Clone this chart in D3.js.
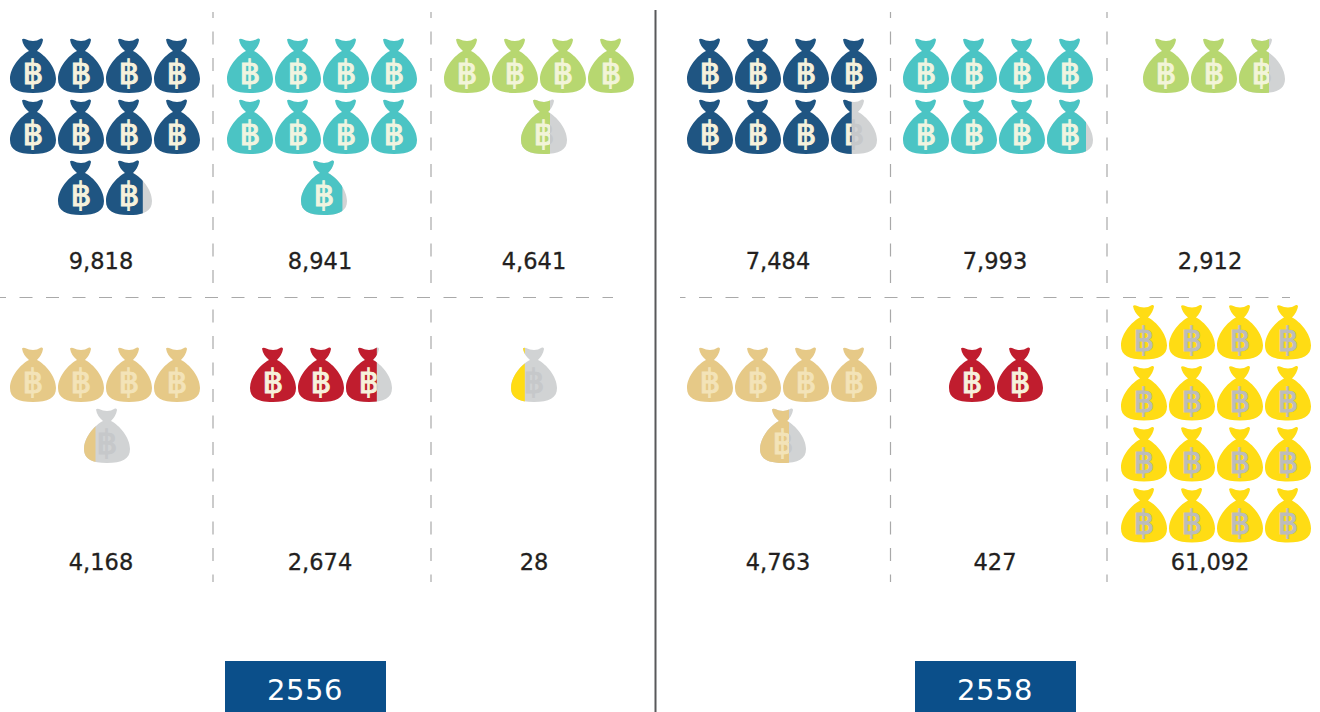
<!DOCTYPE html>
<html>
<head>
<meta charset="utf-8">
<script src="https://d3js.org/d3.v7.min.js"></script>
<style>
	body { margin: 0; background: #fff; }
	text { font-family: "DejaVu Sans", sans-serif; }
</style>
</head>
<body>
<div id="chart"></div>
<script>
// figures as printed under each group of bags, 2556 then 2558
var years = ["2556", "2558"];
var labels2556 = ["9,818", "8,941", "4,641", "4,168", "2,674", "28"];
var labels2558 = ["7,484", "7,993", "2,912", "4,763", "427", "61,092"];
// number of bags drawn (one bag is about 1,000; the last group is cut off at 16)
var bags2556 = [9.8, 8.9, 4.63, 4.25, 2.67, 0.3];
var bags2558 = [7.45, 7.85, 2.65, 4.63, 2, 16];
var colors = ["#1f5582", "#4bc4c4", "#b7d770", "#e6c987", "#c01d2e", "#ffdc14"];
var glyphColors = ["#f6f1dc", "#f0f4e0", "#f2f4d8", "#f3e3b8", "#f6f1dc", "#bcbcbc"];

var width = 1320;
var height = 712;
var bagW = 46;
var bagPitchX = 48;
var bagPitchY = 61;
var emptyColor = "#d1d3d4";
var bagShape = "M12,1.5 Q13,0.5 15,1 Q19,3 23,3 Q27,3 31,0.5 Q33,0 33,2 Q32,8 27,13 C35,17 46,29 46,41 C46,51 38,55 23,55 C8,55 0,51 0,41 C0,29 11,17 19,13 Q13,8 12,1.5 Z";

// one entry per group: centre of the bags, of a short last row, top of first row, label position
var layout2556 = [
	{ cx: 105, lastCx: 105, top: 38, labelX: 101, labelY: 269 },
	{ cx: 322, lastCx: 324, top: 38, labelX: 320, labelY: 269 },
	{ cx: 539, lastCx: 544, top: 38, labelX: 534, labelY: 269 },
	{ cx: 105, lastCx: 107, top: 347, labelX: 101, labelY: 570 },
	{ cx: 321, lastCx: 321, top: 347, labelX: 320, labelY: 570 },
	{ cx: 534, lastCx: 534, top: 347, labelX: 534, labelY: 570 },
];
var layout2558 = [
	{ cx: 782, lastCx: 782, top: 38, labelX: 778, labelY: 269 },
	{ cx: 998, lastCx: 998, top: 38, labelX: 995, labelY: 269 },
	{ cx: 1214, lastCx: 1214, top: 38, labelX: 1210, labelY: 269 },
	{ cx: 782, lastCx: 783, top: 347, labelX: 778, labelY: 570 },
	{ cx: 996, lastCx: 996, top: 347, labelX: 995, labelY: 570 },
	{ cx: 1216, lastCx: 1216, top: 304.5, labelX: 1210, labelY: 570 },
];

var svg = d3
	.select("#chart")
	.append("svg")
	.attr("width", width)
	.attr("height", height)
	.style("display", "block");

// how much of a single bag is coloured
var fillScale = d3.scaleLinear().domain([0, 1]).range([0, bagW]);
var clipCount = 0;

function drawBag(g, x, y, share, color, glyph) {
	var bag = g.append("g").attr("transform", "translate(" + x + "," + y + ")");

	function layer(parent, fill, glyphFill) {
		parent.append("path").attr("d", bagShape).style("fill", fill);
		parent
			.append("text")
			.attr("x", 23)
			.attr("y", 46)
			.attr("text-anchor", "middle")
			.style("font-size", "33px")
			.style("fill", glyphFill)
			.style("stroke", glyphFill)
			.style("stroke-width", 0.9)
			.text("฿");
	}

	if (share >= 1) {
		layer(bag, color, glyph);
		return;
	}
	layer(bag, emptyColor, "#c6c8ca");
	var id = "clip" + clipCount++;
	bag.append("clipPath")
		.attr("id", id)
		.append("rect")
		.attr("x", 0)
		.attr("y", -2)
		.attr("width", fillScale(share))
		.attr("height", 60);
	layer(bag.append("g").attr("clip-path", "url(#" + id + ")"), color, glyph);
}

function drawGroup(count, label, place, i) {
	var g = svg.append("g");
	var total = Math.ceil(count);
	d3.range(total).forEach(function (n) {
		var row = Math.floor(n / 4);
		var inRow = Math.min(4, total - row * 4);
		var cx = inRow < 4 ? place.lastCx : place.cx;
		var x = cx - (inRow * bagPitchX - (bagPitchX - bagW)) / 2 + (n % 4) * bagPitchX;
		var share = Math.min(1, count - n);
		drawBag(g, x, place.top + row * bagPitchY, share, colors[i], glyphColors[i]);
	});
	g.append("text")
		.attr("x", place.labelX)
		.attr("y", place.labelY)
		.attr("text-anchor", "middle")
		.style("font-size", "22.5px")
		.style("stroke", "#231f20")
		.style("stroke-width", 0.3)
		.style("fill", "#231f20")
		.text(label);
}

// dashed dividers
function dashed(x1, y1, x2, y2, offset) {
	svg.append("line")
		.attr("x1", x1)
		.attr("y1", y1)
		.attr("x2", x2)
		.attr("y2", y2)
		.style("stroke", "#a9a9a9")
		.style("stroke-width", 1.2)
		.style("stroke-dasharray", "13,13.5")
		.style("stroke-dashoffset", offset);
}

[213, 431, 890.5, 1107].forEach(function (x) {
	dashed(x, 12, x, 290, 7);
	dashed(x, 300, x, 582, 17);
});
dashed(0, 297.5, 613, 297.5, 7);
dashed(680, 297.5, 1290, 297.5, 7.5);

svg.append("line")
	.attr("x1", 655.5)
	.attr("y1", 10)
	.attr("x2", 655.5)
	.attr("y2", height)
	.style("stroke", "#58595b")
	.style("stroke-width", 2);

bags2556.forEach(function (d, i) {
	drawGroup(d, labels2556[i], layout2556[i], i);
});
bags2558.forEach(function (d, i) {
	drawGroup(d, labels2558[i], layout2558[i], i);
});

// year tabs
[225, 915].forEach(function (x, i) {
	svg.append("rect")
		.attr("x", x)
		.attr("y", 661)
		.attr("width", 161)
		.attr("height", 51)
		.style("fill", "#0b4f8a");
	svg.append("text")
		.attr("x", x + 80)
		.attr("y", 700)
		.attr("text-anchor", "middle")
		.style("font-size", "29px")
		.style("letter-spacing", "0.6px")
		.style("fill", "#fff")
		.text(years[i]);
});
</script>
</body>
</html>
